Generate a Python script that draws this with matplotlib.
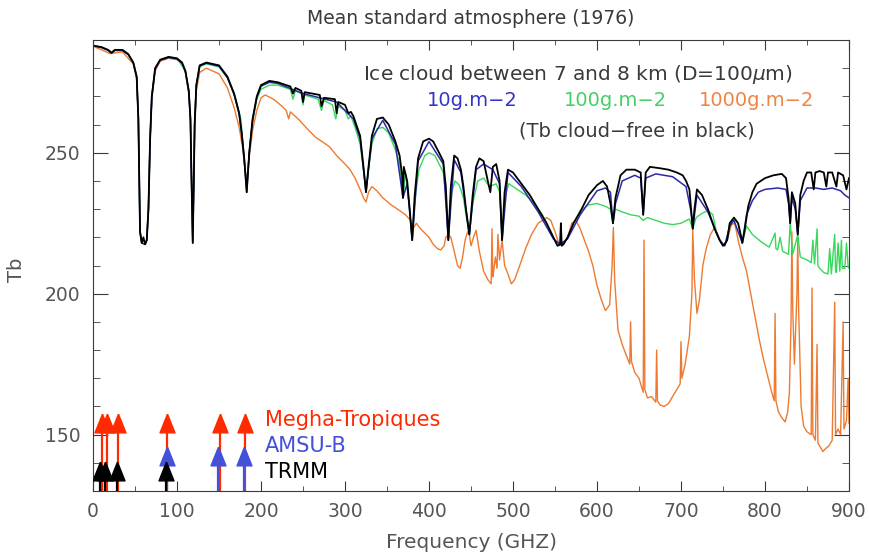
import matplotlib
matplotlib.use('Agg')
import matplotlib.pyplot as plt
from matplotlib.ticker import MultipleLocator

# ---- spectra (frequency GHz, Tb K) ----
clear_f = [0, 10, 18, 22, 26, 35, 42, 48, 52, 54, 56, 58, 60, 62, 64, 66, 68, 70, 74, 80,
           90, 100, 106, 110, 114, 116, 117, 118.75, 120, 121, 123, 127, 135, 150, 160, 168,
           174, 177, 180, 183, 186, 190, 195, 200, 210, 220, 235, 238, 241, 248, 250, 252,
           270, 272, 275, 288, 290, 292, 300, 304, 307, 310, 318, 322, 325, 328, 332, 338,
           345, 352, 360, 365, 368, 369, 370, 374, 377, 380, 383, 387, 393, 400, 405, 412,
           417, 420, 423, 426, 430, 434, 438, 441, 444, 448, 452, 456, 460, 465, 470, 473,
           476, 480, 484, 487, 490, 494, 500, 510, 520, 530, 540, 548, 553, 556, 557, 558,
           560, 565, 572, 580, 590, 600, 607, 612, 616, 619, 622, 628, 635, 645, 652, 655,
           658, 663, 675, 685, 695, 702, 706, 710, 712, 714, 716, 719, 725, 732, 740, 746,
           750, 752, 755, 758, 763, 768, 771, 773, 776, 780, 785, 790, 800, 810, 820, 825,
           828, 830, 832, 836, 839, 842, 846, 850, 855, 858, 860, 865, 870, 873, 875, 880,
           885, 887, 893, 897, 900]
clear_tb = [288, 287.5, 286.5, 285.5, 286.5, 286.5, 285, 282, 277, 262, 222, 218, 220, 217.5,
            219, 230, 255, 270, 280, 283, 284, 283.5, 282, 279, 272, 262, 245, 218, 240, 260,
            274, 281, 282, 281, 277, 271, 264, 257, 248, 236, 250, 262, 270, 274, 275.5, 275,
            273.5, 271, 273, 272, 268, 271.5, 270.5, 266.5, 269.5, 269, 264, 268, 267, 264,
            264.5, 263, 256, 245, 236, 245, 256, 262, 262.5, 260, 254, 249, 242, 234, 245, 240,
            230, 219, 235, 248, 254, 255, 254, 250, 247, 238, 219, 238, 249, 248, 244, 238,
            230, 221, 235, 245, 248, 247, 240, 236, 245, 246, 240, 219, 236, 244, 243, 239,
            235, 230, 225, 220, 217, 217.5, 225, 217, 217.5, 220, 225, 229, 235, 238.5, 240,
            238, 232, 225, 234, 242, 244, 244, 243, 228, 243, 245, 244.5, 244, 243, 242, 240,
            237, 230, 223, 230, 237, 235, 230, 223, 219, 217, 217.5, 219, 225, 227, 225, 221,
            218, 223, 231, 236, 239, 241, 242, 242.5, 241, 234, 225, 236, 232, 221, 235, 240,
            243, 243, 237, 243, 243.5, 243, 238, 243, 243, 238, 243, 242, 237, 241]

ice10_f = [0, 10, 18, 22, 26, 35, 42, 48, 52, 54, 56, 58, 62, 64, 66, 68, 70, 74, 80, 90,
           100, 106, 110, 114, 116, 117, 118.75, 120, 121, 123, 127, 135, 150, 160, 168, 174,
           177, 180, 183, 186, 190, 195, 200, 210, 220, 250, 290, 310, 318, 325, 332, 345,
           360, 369, 374, 380, 387, 400, 417, 423, 430, 438, 448, 456, 465, 476, 484, 487,
           494, 510, 530, 548, 556, 565, 580, 600, 610, 616, 619, 622, 630, 645, 652, 655,
           658, 670, 690, 706, 712, 714, 719, 732, 746, 752, 758, 763, 773, 778, 785, 792,
           800, 815, 825, 828, 830, 832, 836, 839, 842, 850, 860, 870, 880, 890, 895, 900]
ice10_tb = [288, 287.3, 286.3, 285.3, 286.3, 286.3, 284.8, 281.8, 276.8, 262, 222, 218,
            217.5, 219, 230, 255, 269.8, 279.8, 282.8, 283.8, 283.3, 281.8, 278.8, 271.8, 262,
            245, 218, 240, 260, 273.8, 280.8, 281.8, 280.7, 276.7, 270.7, 263.7, 256.8, 248,
            236, 250, 261.7, 269.6, 273.6, 275, 274.6, 271, 268, 262, 255, 236, 255, 261.5,
            253, 234, 239, 219, 247, 254, 246, 219, 247.5, 243, 221, 244, 246, 244, 239, 219,
            243, 238, 229, 219.5, 217.5, 219.5, 228, 236.5, 237.5, 236, 225, 232, 240, 242,
            241, 228, 241, 242.5, 241.5, 238, 229, 223, 235, 229, 219, 217, 224, 226, 218,
            228, 233, 236, 237, 237.5, 237, 232, 225, 234, 230, 221, 233, 237.5, 237.5, 237,
            237.5, 236.5, 235, 234]

ice100_f = [0, 10, 18, 22, 26, 35, 42, 48, 52, 54, 56, 58, 62, 64, 66, 68, 70, 74, 80, 90,
            100, 110, 114, 116,
            118.75, 121, 123, 127, 135, 150, 160, 170, 176, 180, 183, 186, 190, 195, 200,
            210, 220, 235, 238, 241, 248, 250, 252, 268, 272, 275, 285, 289, 292, 300, 304,
            307, 312, 318, 322, 325, 328, 332, 338, 345, 352, 360, 365, 369, 372, 377, 380,
            383, 388, 395, 400, 407, 412, 417, 420, 423, 426, 431, 436, 441, 444, 448, 452,
            458, 465, 472, 480, 484, 487, 490, 495, 505, 515, 525, 535, 545, 553, 560, 565,
            572, 580, 590, 600, 610, 616, 619, 622, 630, 640, 650, 655, 660, 670, 680, 690,
            700, 710, 714, 718, 725, 732, 738, 742, 746, 750, 755, 758, 763, 768, 773, 778,
            785, 795, 805, 812, 813, 815, 818, 821, 828, 830, 833, 839, 842, 850, 855, 857,
            859, 862, 863, 865, 870, 875, 877, 879, 883, 884, 885, 887, 889, 891, 892, 895,
            897, 899, 900]
ice100_tb = [288, 287.4, 286.4, 285.4, 286.4, 286.3, 284.9, 282, 277, 262, 222, 218, 217.5,
             219, 230, 255, 270, 280, 283, 284, 283.5,
             279, 272, 262, 218, 260, 274, 280.5, 281.5, 280.5, 276.5, 269, 262, 248, 237, 250,
             261, 269, 272.5, 274, 274, 272.5, 269, 272, 271, 267, 270.5, 269, 265, 268.5, 267,
             262, 266.5, 265, 262, 263, 259, 253, 244, 236, 244, 253, 258.5, 259, 257, 251, 246,
             234, 243, 230, 219, 233, 244, 249, 250, 249, 246, 243, 236, 219, 235, 240, 238.5,
             234, 228, 221, 232, 240, 241, 238, 239, 236, 219, 234, 239, 237, 235, 232, 228,
             222, 217, 217.5, 220, 225, 229.5, 231.5, 232, 231, 230, 225, 230, 229, 228, 227.5,
             226, 227, 226, 225, 224.5, 225, 226.5, 223, 227, 228.5, 229.5, 228, 222, 219, 217,
             219, 225, 226.5, 225, 218, 224, 221, 218.5, 216.5, 221.5, 216, 215.5, 220, 215,
             214, 225, 214, 221, 213, 212, 211, 219, 210.5, 223, 210, 209, 207.5, 207, 216, 207,
             221, 208, 207.5, 218, 208, 219, 209, 209, 218, 209.5, 209]

ice1000_f = [0, 20, 35, 48, 52, 54, 56, 58, 62, 64, 66, 68, 70, 74, 80, 90, 100, 106, 110,
             114, 116, 117, 118.75, 120, 121, 123, 127, 135, 150, 160, 168, 174, 178, 181,
             183, 185, 190, 195, 200, 205, 215, 225, 230, 233, 235, 246, 255, 265, 275, 282,
             290, 300, 306, 312, 318, 322, 325, 328, 332, 338, 345, 355, 365, 372, 378, 381,
             385, 390, 400, 405, 410, 414, 418, 420, 423, 426, 430, 434, 437, 440, 443, 446,
             448, 450, 453, 456, 460, 465, 470, 474, 475, 476, 477, 479, 481, 482, 484, 487,
             490, 494, 498, 502, 508, 515, 522, 530, 540, 545, 550, 555, 560, 565, 570, 575,
             580, 585, 590, 595, 600, 605, 610, 615, 618, 619.5, 621, 625, 630, 635, 639, 640,
             641, 645, 650, 655, 656, 657, 660, 665, 670, 671, 672, 675, 680, 685, 690, 695,
             699, 700, 701, 705, 710, 713, 714, 716, 719, 722, 726, 730, 735, 740, 745, 748,
             752, 756, 760, 764, 768, 773, 778, 783, 788, 793, 798, 803, 808, 811, 812, 813,
             816, 820, 824, 827, 829, 831, 832, 833, 835, 838, 839, 840, 843, 846, 850, 855,
             856, 857, 860, 862, 863, 866, 869, 872, 876, 880, 883, 884, 887, 890, 893, 894,
             897, 899, 900]
ice1000_tb = [287.8, 285.2, 285.8, 281.5, 276, 262, 222, 218, 217.5, 219, 230, 255, 269, 279,
              282.5, 283.5, 283, 281.5, 278.5, 271, 261, 245, 220, 240, 258, 272, 278.5, 280,
              278, 273, 266, 259, 252, 244, 240, 246, 258, 265, 269.5, 270.5, 269, 266.5, 265,
              262, 264.5, 261.5, 258.5, 255.5, 253.5, 252, 249, 246, 244, 241, 237, 234, 232.5,
              236, 238, 236.5, 234, 231.5, 229.5, 228, 226, 223, 225, 223, 220, 217.5, 216,
              215.5, 217, 220, 221, 220, 215, 210, 209, 213, 219, 222, 221, 217, 220, 222.5,
              215, 208, 205, 203.5, 223, 206, 208, 213, 209, 221, 212, 219, 210, 207, 203.5,
              205, 210, 216, 221, 225, 227, 226, 222, 217.5, 217.5, 220, 225, 226, 223, 219,
              215, 210, 203, 198, 194, 196, 210, 223.5, 205, 187, 182, 178, 175, 190, 176, 172,
              170, 165, 219, 166, 163, 163.5, 161.5, 180, 162, 160.5, 160, 161, 163.5, 166, 168,
              183, 170, 175, 185, 200, 222.5, 205, 193, 198, 210, 216, 221, 223.5, 220, 218,
              217, 220, 224.5, 225, 219, 213, 208, 200, 192, 184, 177, 171, 165, 162, 193, 162,
              158, 156, 154.5, 158, 165, 190, 222, 195, 175, 200, 220, 195, 160, 153, 151, 150,
              202, 150, 148, 182, 147, 145.5, 144, 145, 146, 148, 197, 150, 152, 150, 190, 152,
              155, 170, 154]

# ---- instrument channels (GHz) ----
megha_f = [10.7, 16.5, 29.5, 88, 151, 180.5]
amsub_f = [87.5, 148.5, 179.5]
trmm_f = [8.7, 14.7, 29, 86.5]
megha_y, amsub_y, trmm_y = 154, 142.5, 137

C_BLUE = '#2a2aa8'
C_GREEN = '#38d85a'
C_ORANGE = '#ee7a32'
C_RED = '#ff2a00'
C_MBLUE = '#4450d8'
TXT = '#3a3a3a'
LBL = '#555555'

fig = plt.figure(figsize=(8.69, 5.56), dpi=100)
ax = fig.add_axes([93/869, 65/556, 756/869, 451/556])

ax.plot(ice1000_f, ice1000_tb, color=C_ORANGE, lw=1.0)
ax.plot(ice100_f, ice100_tb, color=C_GREEN, lw=1.0)
ax.plot(ice10_f, ice10_tb, color=C_BLUE, lw=1.1)
ax.plot(clear_f, clear_tb, color='black', lw=1.3)

tri = [(0, 1), (-0.8, -1), (0.8, -1), (0, 1)]
for freqs, y, col in [(megha_f, megha_y, C_RED), (amsub_f, amsub_y, C_MBLUE),
                      (trmm_f, trmm_y, 'black')]:
    ax.vlines(freqs, 130, y, color=col, lw=1.6, zorder=4)
    ax.plot(freqs, [y]*len(freqs), ls='none', marker=tri, ms=13.5,
            color=col, mec=col, zorder=5)

ax.text(205, 155.2, 'Megha-Tropiques', color=C_RED, fontsize=15, va='center')
ax.text(205, 146.0, 'AMSU-B', color=C_MBLUE, fontsize=15, va='center')
ax.text(205, 136.8, 'TRMM', color='black', fontsize=15, va='center')

ax.text(577, 277.6, 'Ice cloud between 7 and 8 km (D=100$\\mu$m)', color=TXT,
        fontsize=14.5, ha='center', va='center')
ax.text(451, 268.4, '10g.m\u22122', color='#3535c8', fontsize=14, ha='center', va='center')
ax.text(622, 268.4, '100g.m\u22122', color='#44d064', fontsize=14, ha='center', va='center')
ax.text(790, 268.4, '1000g.m\u22122', color='#f08446', fontsize=14, ha='center', va='center')
ax.text(648, 257.7, '(Tb cloud\u2212free in black)', color=TXT, fontsize=14,
        ha='center', va='center')

ax.set_xlim(0, 900)
ax.set_ylim(130, 290)
ax.xaxis.set_major_locator(MultipleLocator(100))
ax.xaxis.set_minor_locator(MultipleLocator(50))
ax.yaxis.set_major_locator(MultipleLocator(50))
ax.yaxis.set_minor_locator(MultipleLocator(10))
ax.tick_params(which='both', direction='in', top=True, right=True, colors=TXT,
               labelsize=13.5, labelcolor=LBL)
ax.tick_params(axis='x', which='major', length=7, pad=8)
ax.tick_params(axis='x', which='minor', length=3.5)
ax.tick_params(axis='y', which='major', length=11, pad=9)
ax.tick_params(axis='y', which='minor', length=5)
for sp in ax.spines.values():
    sp.set_color(TXT)

fig.text(471/869, 1 - 18/556, 'Mean standard atmosphere (1976)', color=TXT,
         fontsize=13.5, ha='center', va='center')
fig.text(471/869, 1 - 543/556, 'Frequency (GHZ)', color=LBL, fontsize=14.5,
         ha='center', va='center')
fig.text(17/869, 1 - 270/556, 'Tb', color=LBL, fontsize=14, rotation=90,
         ha='center', va='center')

fig.savefig('out.png', dpi=100)
